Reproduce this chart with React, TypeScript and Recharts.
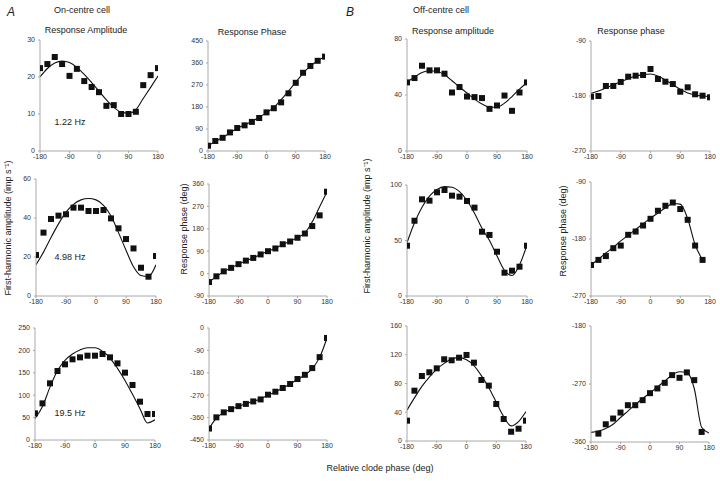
import React from 'react';
import { ComposedChart, Line, Scatter, XAxis, YAxis } from 'recharts';

// Relative clode phase (deg)
const phases = [-180, -157.5, -135, -112.5, -90, -67.5, -45, -22.5, 0, 22.5, 45, 67.5, 90, 112.5, 135, 157.5, 180];
const xTicks = [-180, -90, 0, 90, 180];

// A: On-centre cell, amplitude (imp s-1)
const onAmp122 = [22.4, 23.5, 25.4, 23.5, 20.3, 22.2, 18.9, 17.3, 15.9, 12.2, 12.4, 10.0, 10.0, 10.6, 17.8, 20.5, 22.4];
const onAmp122Fit = [20.0, 22.3, 23.8, 24.3, 23.9, 22.6, 20.7, 18.5, 16.2, 13.8, 11.8, 10.5, 10.2, 11.2, 14.2, 17.2, 20.3];
const onAmp498 = [21.0, 32.5, 39.5, 41.2, 41.9, 45.3, 45.3, 43.6, 43.6, 44.1, 39.8, 34.7, 29.2, 24.4, 14.5, 9.9, 20.5];
const onAmp498Fit = [16, 22.5, 30, 37, 43, 47, 49.3, 50, 49.3, 46.5, 41, 32.5, 23.5, 15, 10.5, 10, 16];
const onAmp195 = [59.5, 81.8, 126.5, 154, 168.9, 180.1, 184.5, 188.2, 188.2, 191.9, 184.5, 171.1, 150.3, 122.8, 85.5, 58, 58];
const onAmp195Fit = [48, 75, 118, 155, 178, 192, 201, 206, 206, 198, 183, 160, 133, 102, 70, 38, 45];

// A: On-centre cell, phase (deg)
const onPh122 = [21.7, 41, 54, 76, 94, 105, 119, 135, 158, 175, 199, 236, 279, 320, 348, 369, 386];
const onPh122Fit = [22, 39, 55, 74, 93, 107, 121, 138, 157, 178, 210, 245, 282, 318, 347, 369, 387];
const onPh498 = [-34, -11, 9, 23, 38, 52, 63, 77, 90, 101, 118, 129, 144, 161, 191, 234, 329];
const onPh498Fit = [-34, -12, 8, 23, 38, 51, 63, 77, 90, 102, 117, 130, 145, 163, 208, 269, 329];
const onPh195 = [-404, -359, -339, -326, -314, -305, -295, -287, -268, -256, -241, -225, -205, -188, -161, -117, -40];
const onPh195Fit = [-404, -362, -340, -326, -314, -304, -295, -285, -270, -257, -241, -225, -206, -189, -163, -118, -40];

// B: Off-centre cell, amplitude (imp s-1)
const offAmpTop = [49, 52.1, 60.9, 57.6, 57.6, 55.2, 41.8, 45.7, 38.9, 38.5, 37.8, 30.1, 32.5, 39.6, 28.7, 41.8, 49];
const offAmpTopFit = [49, 52.8, 56.1, 57.3, 56.8, 54.5, 50.2, 45.7, 41.4, 37.1, 33.5, 31.3, 31.3, 34.2, 38.9, 44.2, 49];
const offAmpMid = [45.3, 67.8, 87.1, 85.9, 93.4, 95.5, 90.4, 89.5, 85.6, 79.6, 57.9, 55, 39.9, 21, 22.8, 26.4, 45.3];
const offAmpMidFit = [48, 66, 80, 90, 96, 98.5, 98, 94, 86, 74.5, 61, 50, 36, 23, 18.5, 28, 46];
const offAmpBot = [28.3, 70, 90.4, 95.6, 101.1, 113.7, 112.3, 115.9, 119.7, 109, 84.9, 77, 51.5, 30.6, 12.9, 17.1, 28.3];
const offAmpBotFit = [43, 60, 76, 89, 100, 108, 114, 116, 113, 105, 91, 74, 54, 34, 21, 27, 41];

// B: Off-centre cell, phase (deg)
const offPhTop = [-181.1, -180, -163.6, -163.6, -157, -148.4, -146.8, -145.6, -135.8, -152.2, -156.6, -160.4, -173, -165.8, -177.2, -179.5, -182.1];
const offPhTopFit = [-175.6, -171.8, -166.9, -162, -156.6, -151.7, -147.3, -145, -144, -147.3, -153.8, -161.5, -169, -175, -178.4, -180, -181];
const offPhMid = [-221, -213, -207, -194.5, -190.4, -173.4, -168.2, -158.7, -148.1, -135.4, -127.5, -122.4, -132.7, -149.7, -190.4, -213, null];
const offPhMidFit = [-221, -212, -202, -193, -183, -174, -165, -156, -147, -139, -131, -124, -125, -148, -189, -213, null];
const offPhBot = [null, -347, -332.5, -323.6, -314.3, -302.9, -302.9, -295.1, -284.2, -276.9, -268.2, -256.2, -260.4, -252, -264, -344.4, null];
const offPhBotFit = [-345, -343, -339, -332.5, -322, -312, -302, -292.5, -284, -274.5, -265.5, -256, -251, -252, -277, -337, -346];

const FONT = '"Liberation Sans", Arial, Helvetica, sans-serif';

type PanelProps = {
  obs: (number | null)[];
  fit: (number | null)[];
  domain: [number, number];
  ticks: number[];
  x0: number;
  x1: number;
  yTop: number;
  yBot: number;
};

const YW = 32;
const MT = 4;
const MR = 12;
const XH = 16;

const Square = (p: any) => {
  if (p.cx == null || p.cy == null || isNaN(p.cx) || isNaN(p.cy)) return <g />;
  return <rect x={p.cx - 3} y={p.cy - 3} width={6} height={6} fill="#111" />;
};

function Panel({ obs, fit, domain, ticks, x0, x1, yTop, yBot }: PanelProps) {
  const rows = phases.map((p, i) => ({ x: p, obs: obs[i], fit: fit[i] }));
  const pts = rows.filter((r) => r.obs != null);
  const width = x1 - x0 + YW + MR;
  const height = yBot - yTop + MT + XH;
  return (
    <div style={{ position: 'absolute', left: x0 - YW, top: yTop - MT, width, height }}>
      <ComposedChart width={width} height={height} data={rows} margin={{ top: MT, right: MR, left: 0, bottom: 0 }}>
        <XAxis
          type="number"
          dataKey="x"
          domain={[-180, 180]}
          ticks={xTicks}
          allowDataOverflow
          height={XH}
          stroke="#a8a8a8"
          tickSize={2}
          tickMargin={1}
          tick={{ fontSize: 7, fill: '#333', fontFamily: FONT }}
          interval={0}
        />
        <YAxis
          type="number"
          domain={domain}
          ticks={ticks}
          allowDataOverflow
          width={YW}
          stroke="#a8a8a8"
          tickSize={2}
          tickMargin={3}
          tick={{ fontSize: 7, fill: '#333', fontFamily: FONT }}
          interval={0}
        />
        <Line
          type="monotone"
          dataKey="fit"
          stroke="#111"
          strokeWidth={1.1}
          dot={false}
          connectNulls
          isAnimationActive={false}
        />
        <Scatter data={pts} dataKey="obs" shape={Square} isAnimationActive={false} />
      </ComposedChart>
    </div>
  );
}

function T({ x, y, size = 9, rotate = false, italic = false, bold = false, children }: any) {
  return (
    <div
      style={{
        position: 'absolute',
        left: x,
        top: y,
        transform: `translate(-50%, -50%)${rotate ? ' rotate(-90deg)' : ''}`,
        whiteSpace: 'nowrap',
        fontFamily: FONT,
        fontSize: size,
        fontStyle: italic ? 'italic' : 'normal',
        fontWeight: bold ? 'bold' : 'normal',
        color: '#222',
        lineHeight: 1,
      }}
    >
      {children}
    </div>
  );
}

export default function App() {
  return (
    <div style={{ position: 'absolute', left: 0, top: 0, width: 720, height: 481, background: '#fff', overflow: 'hidden' }}>
      {/* Column 1: A amplitude */}
      <Panel obs={onAmp122} fit={onAmp122Fit} domain={[0, 30]} ticks={[0, 10, 20, 30]} x0={40} x1={158} yTop={40} yBot={151} />
      <Panel obs={onAmp498} fit={onAmp498Fit} domain={[0, 60]} ticks={[0, 20, 40, 60]} x0={36} x1={156} yTop={179} yBot={296} />
      <Panel obs={onAmp195} fit={onAmp195Fit} domain={[0, 250]} ticks={[0, 50, 100, 150, 200, 250]} x0={35} x1={155} yTop={328} yBot={440} />
      {/* Column 2: A phase */}
      <Panel obs={onPh122} fit={onPh122Fit} domain={[0, 450]} ticks={[0, 90, 180, 270, 360, 450]} x0={208} x1={325} yTop={41} yBot={151} />
      <Panel obs={onPh498} fit={onPh498Fit} domain={[-90, 360]} ticks={[-90, 0, 90, 180, 270, 360]} x0={209} x1={327} yTop={184} yBot={296} />
      <Panel obs={onPh195} fit={onPh195Fit} domain={[-450, 0]} ticks={[-450, -360, -270, -180, -90, 0]} x0={209} x1={327} yTop={328} yBot={440} />
      {/* Column 3: B amplitude */}
      <Panel obs={offAmpTop} fit={offAmpTopFit} domain={[0, 80]} ticks={[0, 40, 80]} x0={407} x1={527} yTop={39} yBot={151} />
      <Panel obs={offAmpMid} fit={offAmpMidFit} domain={[0, 100]} ticks={[0, 50, 100]} x0={407} x1={527} yTop={185} yBot={296} />
      <Panel obs={offAmpBot} fit={offAmpBotFit} domain={[0, 160]} ticks={[0, 40, 80, 120, 160]} x0={407} x1={526} yTop={326} yBot={441} />
      {/* Column 4: B phase */}
      <Panel obs={offPhTop} fit={offPhTopFit} domain={[-270, -90]} ticks={[-270, -180, -90]} x0={591} x1={710} yTop={41} yBot={151} />
      <Panel obs={offPhMid} fit={offPhMidFit} domain={[-270, -90]} ticks={[-270, -180, -90]} x0={591} x1={710} yTop={182} yBot={296} />
      <Panel obs={offPhBot} fit={offPhBotFit} domain={[-360, -180]} ticks={[-360, -270, -180]} x0={591} x1={709} yTop={326} yBot={442} />

      <T x={11} y={12} size={12} italic>A</T>
      <T x={350} y={12} size={12} italic>B</T>
      <T x={82} y={10} size={9}>On-centre cell</T>
      <T x={441} y={10} size={9}>Off-centre cell</T>
      <T x={86} y={30} size={9}>Response Amplitude</T>
      <T x={252} y={32} size={9}>Response Phase</T>
      <T x={453} y={31} size={9}>Response amplitude</T>
      <T x={631} y={31} size={9}>Response phase</T>
      <T x={70} y={122} size={9}>1.22 Hz</T>
      <T x={70} y={257} size={9}>4.98 Hz</T>
      <T x={70} y={413} size={9}>19.5 Hz</T>
      <T x={8} y={228} size={9} rotate>First-harmonic amplitude (imp s⁻¹)</T>
      <T x={184} y={229} size={9} rotate>Response phase (deg)</T>
      <T x={367} y={226} size={9} rotate>First-harmonic amplitude (imp s⁻¹)</T>
      <T x={563} y={231} size={9} rotate>Response phase (deg)</T>
      <T x={380} y={468} size={9}>Relative clode phase (deg)</T>
    </div>
  );
}
